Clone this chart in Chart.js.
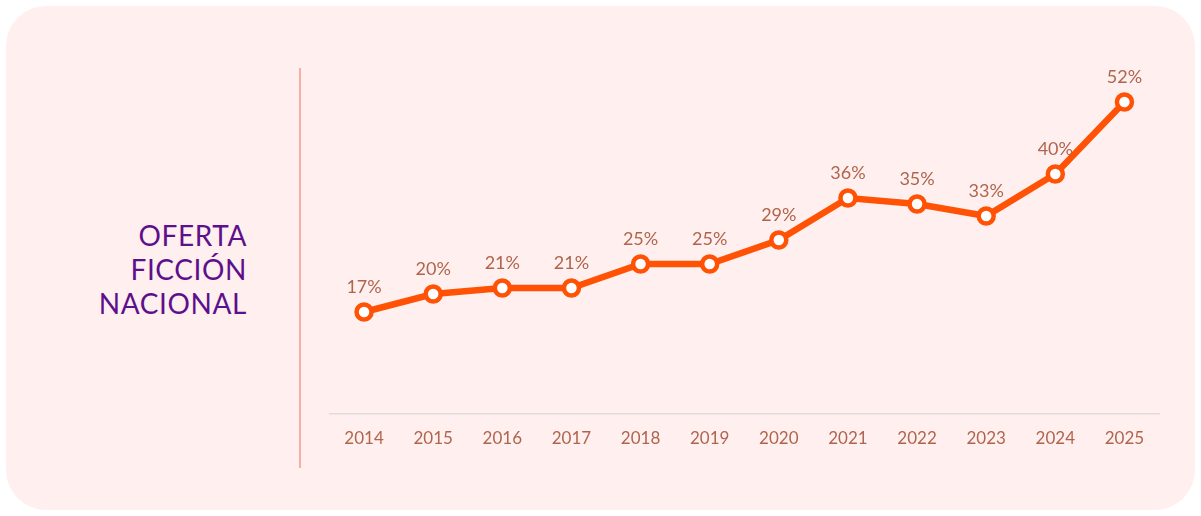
<!DOCTYPE html>
<html>
<head>
<meta charset="utf-8">
<script src="https://cdn.jsdelivr.net/npm/chart.js@4"></script>
<style>
  html, body { margin: 0; padding: 0; background: #ffffff; }
  body { width: 1201px; height: 516px; position: relative; overflow: hidden; }
  .card {
    position: absolute; left: 6px; top: 6px; width: 1189px; height: 504px;
    background: #fff0ef; border-radius: 40px;
  }
  .title {
    position: absolute; right: calc(1201px - 247px); top: 218px;
    text-align: right; color: #5e0f8c; font-family: Lato, sans-serif;
    font-size: 28px; line-height: 34px; letter-spacing: 0.6px;
  }
  .divider {
    position: absolute; left: 299px; top: 68px; width: 2px; height: 400px;
    background: #f7aea4;
  }
  #wrap { position: absolute; left: 0; top: 0; width: 1201px; height: 516px; }
</style>
</head>
<body>
<div class="card"></div>
<div class="title">OFERTA<br>FICCIÓN<br>NACIONAL</div>
<div class="divider"></div>
<div id="wrap"><canvas id="chart"></canvas></div>
<script>
/* global Chart */

const years = ['2014', '2015', '2016', '2017', '2018', '2019', '2020', '2021', '2022', '2023', '2024', '2025']
const share = [17, 20, 21, 21, 25, 25, 29, 36, 35, 33, 40, 52]

const LINE = '#ff5204'
const LABEL = '#b0644c'

const valueLabels = {
  id: 'valueLabels',
  afterDatasetsDraw (chart) {
    const ctx = chart.ctx
    const meta = chart.getDatasetMeta(0)
    ctx.save()
    ctx.font = '18px Lato, sans-serif'
    ctx.fillStyle = LABEL
    ctx.textAlign = 'center'
    ctx.textBaseline = 'middle'
    meta.data.forEach((pt, i) => {
      ctx.fillText(share[i] + '%', pt.x, pt.y - 25)
    })
    ctx.restore()
  }
}

new Chart(document.getElementById('chart'), {
  type: 'line',
  data: {
    labels: years,
    datasets: [{
      data: share,
      borderColor: LINE,
      borderWidth: 6.5,
      pointRadius: 7.5,
      pointBorderWidth: 4.5,
      pointBackgroundColor: '#ffffff',
      pointBorderColor: LINE,
      tension: 0,
      clip: false
    }]
  },
  options: {
    responsive: true,
    maintainAspectRatio: false,
    animation: false,
    layout: { padding: { left: 329.5, right: 42, top: 54, bottom: 0 } },
    plugins: { legend: { display: false }, tooltip: { enabled: false } },
    scales: {
      x: {
        offset: true,
        grid: { display: false },
        border: { display: true, color: '#e4dbdb', width: 1.5 },
        ticks: { color: LABEL, font: { family: 'Lato, sans-serif', size: 17 }, padding: 6 },
        afterFit (scale) { scale.height = 102 }
      },
      y: {
        display: false,
        min: 0,
        max: 60
      }
    }
  },
  plugins: [valueLabels]
})
</script>
</body>
</html>
